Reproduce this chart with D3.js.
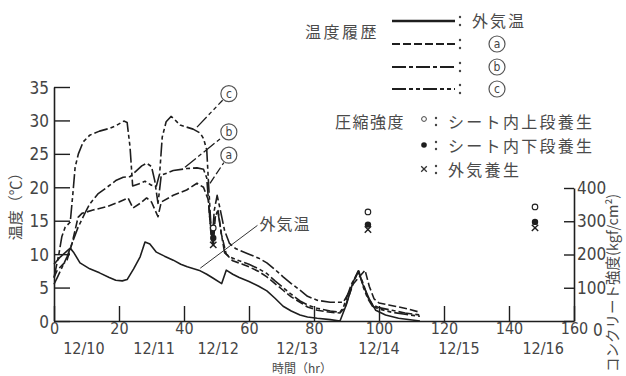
<!DOCTYPE html>
<html>
<head>
<meta charset="utf-8">
<script src="https://cdn.jsdelivr.net/npm/d3@7"></script>
<style>
  html, body { margin: 0; padding: 0; background: #fff; }
  svg { display: block; }
  .num { font-family: "DejaVu Sans Condensed", "DejaVu Sans", sans-serif; font-stretch: condensed; fill: #444; }
  .jp { font-family: "Noto Sans CJK JP", sans-serif; fill: #4a4a4a; }
</style>
</head>
<body>
<svg id="chart" width="626" height="376"></svg>
<script>
// Temperature history, hours from start vs. °C
const outsideTemp = [
  [0, 8.5], [2, 9.6], [5, 10.9], [6, 10.3], [8, 8.7], [11, 7.8], [14, 7.2], [17, 6.5], [19, 6.1],
  [21, 6.0], [22.5, 6.2], [24.5, 7.8], [26.5, 9.6], [28, 11.8], [29.5, 11.5], [31.5, 10.3], [34, 9.7],
  [36.7, 9.1], [39, 8.5], [41, 8.1], [43, 7.8], [45, 7.5], [47, 7.0], [49, 6.4], [51.6, 5.6], [53, 7.6],
  [55, 7.0], [57, 6.5], [60, 5.9], [63, 5.2], [65.5, 4.5], [68, 3.4], [70.5, 2.2], [73, 1.5], [75.7, 0.9],
  [78, 0.6], [81, 0.4], [85, 0.2], [88, 0], [90, 2.5], [92, 5.8], [93.6, 7.5], [95, 5.5], [97, 3.3],
  [99, 1.6], [102, 0.9], [106, 0.4], [112.6, 0]
];
const seriesA = [
  [0, 6.5], [1, 7.6], [4, 9.1], [5.5, 11.5], [6.5, 13.6], [7.4, 15.5], [8.6, 16.1], [12, 16.6],
  [16.3, 17.1], [20, 17.8], [22.8, 18.4], [24.3, 16.9], [26.5, 17.6], [28.5, 18.4], [30, 17.8],
  [32, 15.6], [33, 17.8], [36.7, 18.8], [40.8, 19.6], [44, 20.6], [46, 20.0], [47.5, 18.1], [48.3, 13],
  [49, 11], [49.6, 15.5], [50.5, 16.5], [51.5, 13], [53, 10], [55, 9.0], [58, 8.5], [60, 8.1], [63, 7.4],
  [65.5, 6.6], [68, 5.6], [70.5, 4.6], [73, 3.6], [75.7, 2.8], [78, 2.1], [81, 1.6], [85, 1.3], [88, 1.2],
  [89.5, 2], [92, 5.5], [95.7, 7.6], [97, 5.2], [98.5, 3.3], [100, 2.7], [103, 2.4], [106, 2.1],
  [109, 1.8], [112.6, 1.3]
];
const seriesB = [
  [0, 5.5], [1, 6.5], [4, 9.6], [7.4, 14], [10, 16.6], [11, 17.5], [13.5, 19], [16.3, 20], [19, 21],
  [21.3, 21.5], [23.4, 21.6], [25, 22.3], [27, 23.2], [28.5, 23.6], [30, 23.1], [31, 21], [32, 17.6],
  [33, 21.8], [36.7, 22.5], [40.8, 22.8], [44, 22.9], [46, 22.7], [47, 21.4], [48, 15], [48.7, 12],
  [49.3, 16.5], [50.2, 18.8], [51, 17], [52.5, 13.5], [54, 11.6], [56, 10.8], [60, 10.0], [63, 9.4],
  [65.5, 8.7], [68, 7.7], [70.5, 6.6], [73, 5.6], [75.7, 4.6], [78, 3.7], [81, 3.1], [85, 2.8],
  [89, 2.8], [91, 4.5], [93.6, 7.4], [95, 5.8], [96.5, 3.6], [98, 2.4], [100, 2.0], [104, 1.6],
  [108, 1.2], [112.6, 0.9]
];
const seriesC = [
  [0, 6.5], [1.5, 10], [2.4, 12.6], [3.4, 14], [5, 14.8], [5.8, 19], [6.5, 23], [7.5, 25], [9, 26.8],
  [11, 27.8], [14, 28.4], [17, 28.8], [19, 29.2], [21.5, 29.9], [22.5, 29.7], [23.4, 26], [24.2, 20.2],
  [26, 20.5], [28, 20.9], [30, 20.3], [31.5, 20.2], [32.5, 22], [33.3, 27.5], [34.5, 29.8], [36, 30.6],
  [37, 30.2], [38.8, 29.3], [42.8, 28.7], [45, 28.1], [46, 27.3], [47, 25.6], [47.5, 21], [48.2, 15],
  [48.8, 12.2], [49.5, 15.5], [50.4, 16.5], [51.5, 13], [52.5, 10.2], [54, 9.6], [57, 9.0], [60, 8.5],
  [63, 7.8], [65.5, 7.1], [68, 6.0], [70.5, 5.0], [73, 4.0], [75.7, 3.0], [78, 2.4], [81, 1.9],
  [85, 1.5], [88, 1.3], [89, 2], [91.5, 5.5], [93.8, 7.5], [95.2, 5], [96.5, 3.4], [98, 2.2],
  [100, 1.8], [104, 1.3], [108, 1.0], [112.6, 0.7]
];

// Compressive strength (kgf/cm²) at test ages
const strengthHours = [49, 96.6, 148];
const strengthUpper = [280, 328, 343];
const strengthLower = [250, 290, 298];
const strengthOutside = [229, 275, 280];

// Axis ticks and labels
const hourTicks = [0, 20, 40, 60, 80, 100, 120, 140, 160];
const tempTicks = [0, 5, 10, 15, 20, 25, 30, 35];
const strengthTicks = [0, 100, 200, 300, 400];
const dateLabels = ["12/10", "12/11", "12/12", "12/13", "12/14", "12/15", "12/16"];
const dateHours = [9.2, 30.8, 50.5, 74.8, 100, 124.6, 150.5];

const svg = d3.select("#chart");
const ink = "#1e1e1e";

const x = d3.scaleLinear().domain([0, 160]).range([54, 574]);
const y = d3.scaleLinear().domain([0, 35]).range([321, 87]);
const yR = d3.scaleLinear().domain([0, 400]).range([321, 188]);

// Axes
const styleAxis = (g, size) => {
  g.selectAll("path.domain").attr("stroke", ink).attr("stroke-width", 1.6);
  g.selectAll(".tick line").attr("stroke", ink).attr("stroke-width", 1.4);
  g.selectAll(".tick text").attr("class", "num").attr("font-size", size).attr("fill", "#444");
};

svg.append("g").attr("transform", `translate(0,${y(0)})`)
  .call(d3.axisBottom(x).tickValues(hourTicks).tickSize(-15).tickSizeOuter(0).tickPadding(2))
  .call(styleAxis, 16);

svg.append("g").attr("transform", `translate(${x(0)},0)`)
  .call(d3.axisLeft(y).tickValues(tempTicks).tickSize(-16).tickSizeOuter(0).tickPadding(5))
  .call(styleAxis, 17)
  .call(g => g.selectAll(".tick text").attr("dy", "0.36em"));

// Strength axis; its zero label is set beside the end of the hour axis
svg.append("g").attr("transform", `translate(${x(160)},0)`)
  .call(d3.axisRight(yR).tickValues(strengthTicks)
    .tickFormat(v => v === 0 ? "" : d3.format("d")(v))
    .tickSize(-10).tickSizeOuter(0).tickPadding(3))
  .call(styleAxis, 17);
svg.append("text").attr("class", "num").attr("font-size", 17)
  .attr("x", x(160) + 19).attr("y", yR(strengthTicks[0])).attr("dy", "0.9em")
  .text(d3.format("d")(strengthTicks[0]));

// Date labels under the hour axis
svg.append("g").selectAll("text").data(dateLabels).join("text")
  .attr("class", "num").attr("font-size", 16).attr("text-anchor", "middle")
  .attr("x", (d, i) => x(dateHours[i])).attr("y", 354)
  .text(d => d);

// Axis titles
svg.append("text").attr("class", "jp").attr("font-size", 12)
  .attr("text-anchor", "middle").attr("x", 302).attr("y", 373)
  .text("時間（hr）");
svg.append("text").attr("class", "jp").attr("font-size", 15)
  .attr("text-anchor", "middle")
  .attr("transform", `translate(21,${y(17.7)}) rotate(-90)`)
  .text("温度（℃）");
svg.append("text").attr("class", "jp").attr("font-size", 14.5)
  .attr("text-anchor", "start")
  .attr("transform", `translate(618,372) rotate(-90)`)
  .text("コンクリート強度(kgf/cm²)");

// Temperature curves
const line = d3.line().x(d => x(d[0])).y(d => y(d[1])).curve(d3.curveLinear);
const series = [
  { data: outsideTemp, dash: null },
  { data: seriesA, dash: "8,3" },
  { data: seriesB, dash: "14,3,4,3" },
  { data: seriesC, dash: "14,3,4,3,4,3" }
];
svg.append("g").selectAll("path").data(series).join("path")
  .attr("d", d => line(d.data))
  .attr("fill", "none").attr("stroke", ink).attr("stroke-width", 1.6)
  .attr("stroke-linejoin", "round")
  .attr("stroke-dasharray", d => d.dash);

// Compressive strength markers
const marks = svg.append("g");
marks.selectAll("circle.up").data(strengthHours).join("circle").attr("class", "up")
  .attr("cx", d => x(d)).attr("cy", (d, i) => yR(strengthUpper[i])).attr("r", 2.8)
  .attr("fill", "#fff").attr("stroke", ink).attr("stroke-width", 1.1);
marks.selectAll("circle.lo").data(strengthHours).join("circle").attr("class", "lo")
  .attr("cx", d => x(d)).attr("cy", (d, i) => yR(strengthLower[i])).attr("r", 3.2)
  .attr("fill", ink);
marks.selectAll("path.out").data(strengthHours).join("path").attr("class", "out")
  .attr("d", (d, i) => {
    const cx = x(d), cy = yR(strengthOutside[i]), s = 3.2;
    return `M${cx - s},${cy - s}L${cx + s},${cy + s}M${cx + s},${cy - s}L${cx - s},${cy + s}`;
  })
  .attr("stroke", ink).attr("stroke-width", 1.4);

// Series call-outs: circled letter with a leader to its curve
const callouts = [
  { key: "c", from: [44, 29], to: [53.8, 34], dash: "14,3,4,3,4,3" },
  { key: "b", from: [40.3, 23], to: [53.8, 28.3], dash: "14,3,4,3" },
  { key: "a", from: [48, 20.6], to: [53.8, 24.8], dash: "8,3" }
];
const r = 8;
callouts.forEach(c => {
  const x0 = x(c.from[0]), y0 = y(c.from[1]), x1 = x(c.to[0]), y1 = y(c.to[1]);
  const ang = Math.atan2(y0 - y1, x0 - x1);
  svg.append("line")
    .attr("x1", x0).attr("y1", y0)
    .attr("x2", x1 + Math.cos(ang) * (r + 1)).attr("y2", y1 + Math.sin(ang) * (r + 1))
    .attr("stroke", ink).attr("stroke-width", 1.3).attr("stroke-dasharray", c.dash);
  svg.append("circle").attr("cx", x1).attr("cy", y1).attr("r", r)
    .attr("fill", "#fff").attr("stroke", "#555").attr("stroke-width", 1.2);
  svg.append("text").attr("class", "num").attr("font-size", 12).attr("text-anchor", "middle")
    .attr("x", x1).attr("y", y1).attr("dy", "0.35em").text(c.key);
});

// Outside-temperature call-out
svg.append("line")
  .attr("x1", x(45)).attr("y1", y(7.9)).attr("x2", x(62.6)).attr("y2", y(14.3))
  .attr("stroke", "#333").attr("stroke-width", 1);
svg.append("text").attr("class", "jp").attr("font-size", 16)
  .attr("x", x(63.2)).attr("y", y(14.4)).attr("dy", "0.35em")
  .attr("letter-spacing", 1).text("外気温");

// Legend: temperature history line styles
const legend = svg.append("g");
legend.append("text").attr("class", "jp").attr("font-size", 16).attr("letter-spacing", 2.5)
  .attr("x", 305).attr("y", 32).attr("dy", "0.35em").text("温度履歴");
const legendRows = [
  { y: 21, dash: null, label: "外気温" },
  { y: 44, dash: "8,3", key: "a" },
  { y: 67, dash: "14,3,4,3", key: "b" },
  { y: 89, dash: "14,3,4,3,4,3", key: "c" }
];
legendRows.forEach(rw => {
  legend.append("line").attr("x1", 392).attr("x2", 455).attr("y1", rw.y).attr("y2", rw.y)
    .attr("stroke", ink).attr("stroke-width", rw.dash ? 2 : 2.6).attr("stroke-dasharray", rw.dash);
  legend.append("circle").attr("cx", 460).attr("cy", rw.y - 4).attr("r", 1.2).attr("fill", "#444");
  legend.append("circle").attr("cx", 460).attr("cy", rw.y + 4).attr("r", 1.2).attr("fill", "#444");
  if (rw.label) {
    legend.append("text").attr("class", "jp").attr("font-size", 16).attr("letter-spacing", 2)
      .attr("x", 472).attr("y", rw.y).attr("dy", "0.35em").text(rw.label);
  } else {
    legend.append("circle").attr("cx", 497).attr("cy", rw.y).attr("r", 8)
      .attr("fill", "#fff").attr("stroke", "#555").attr("stroke-width", 1.2);
    legend.append("text").attr("class", "num").attr("font-size", 12).attr("text-anchor", "middle")
      .attr("x", 497).attr("y", rw.y).attr("dy", "0.35em").text(rw.key);
  }
});

// Legend: compressive strength markers
legend.append("text").attr("class", "jp").attr("font-size", 16).attr("letter-spacing", 1.5)
  .attr("x", 335).attr("y", 122).attr("dy", "0.35em").text("圧縮強度");
const strengthRows = [
  { y: 122, kind: "open", label: "シート内上段養生" },
  { y: 146, kind: "dot", label: "シート内下段養生" },
  { y: 170, kind: "cross", label: "外気養生" }
];
strengthRows.forEach(rw => {
  const cx = 424;
  if (rw.kind === "open") {
    legend.append("circle").attr("cx", cx).attr("cy", rw.y - 3).attr("r", 2.4)
      .attr("fill", "#fff").attr("stroke", "#444").attr("stroke-width", 1);
  } else if (rw.kind === "dot") {
    legend.append("circle").attr("cx", cx).attr("cy", rw.y - 1).attr("r", 2.8).attr("fill", ink);
  } else {
    const s = 2.8;
    legend.append("path")
      .attr("d", `M${cx - s},${rw.y - 1 - s}L${cx + s},${rw.y - 1 + s}M${cx + s},${rw.y - 1 - s}L${cx - s},${rw.y - 1 + s}`)
      .attr("stroke", "#333").attr("stroke-width", 1.3);
  }
  legend.append("circle").attr("cx", 436).attr("cy", rw.y - 4).attr("r", 1.2).attr("fill", "#444");
  legend.append("circle").attr("cx", 436).attr("cy", rw.y + 3).attr("r", 1.2).attr("fill", "#444");
  legend.append("text").attr("class", "jp").attr("font-size", 16).attr("letter-spacing", 2.3)
    .attr("x", 448).attr("y", rw.y).attr("dy", "0.35em").text(rw.label);
});
</script>
</body>
</html>
